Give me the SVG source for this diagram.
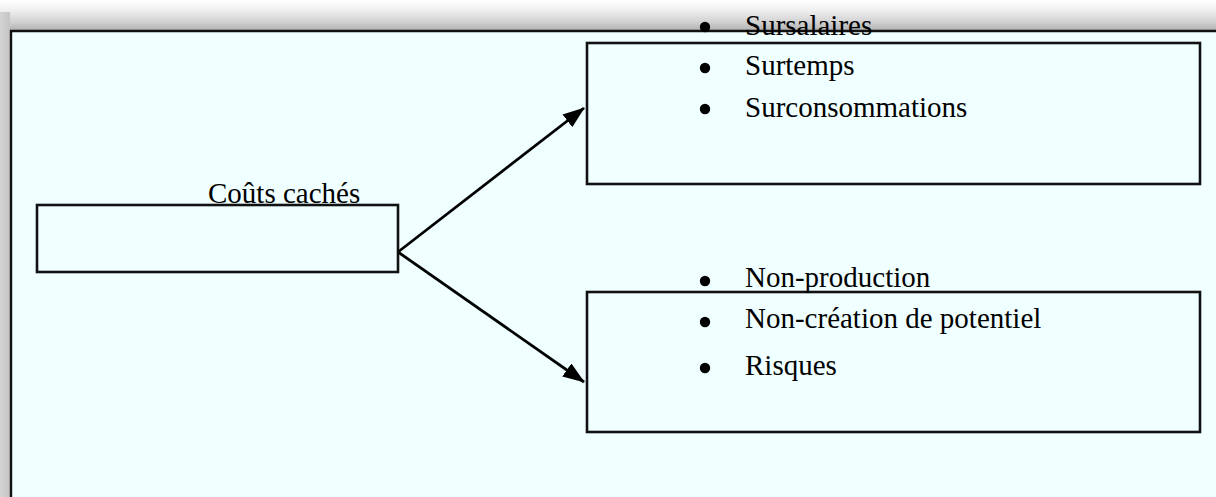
<svg xmlns="http://www.w3.org/2000/svg" width="1216" height="497" viewBox="0 0 1216 497">
  <defs>
    <linearGradient id="topShadow" x1="0" y1="0" x2="0" y2="1">
      <stop offset="0" stop-color="#ffffff"/>
      <stop offset="0.35" stop-color="#eeeeee"/>
      <stop offset="0.7" stop-color="#d2d2d2"/>
      <stop offset="1" stop-color="#b0b0b0"/>
    </linearGradient>
    <linearGradient id="leftShadow" x1="0" y1="0" x2="1" y2="0">
      <stop offset="0" stop-color="#d4d4d4"/>
      <stop offset="1" stop-color="#c4c4c4"/>
    </linearGradient>
    <marker id="arrow" markerWidth="22" markerHeight="16" refX="21" refY="8" orient="auto" markerUnits="userSpaceOnUse">
      <path d="M0,0 L22,8 L0,16 Z" fill="#000"/>
    </marker>
    <style>
      .box { fill: none; stroke: #111; stroke-width: 2.6; }
      .txt { font-family: "Liberation Serif", "Times New Roman", serif; font-size: 29px; fill: #000; }
      .bullet { fill: #000; }
      .conn { stroke: #000; stroke-width: 2.8; fill: none; }
    </style>
  </defs>

  <!-- background and shadow -->
  <rect x="0" y="0" width="1216" height="497" fill="#ffffff"/>
  <rect x="0" y="0" width="1216" height="31" fill="url(#topShadow)"/>
  <rect x="0" y="12" width="10" height="485" fill="url(#leftShadow)"/>
  <rect x="11" y="31" width="1205" height="466" fill="#f0ffff"/>
  <path d="M11,497 L11,31 L1216,31" fill="none" stroke="#111" stroke-width="2.4"/>

  <g id="connectors">
    <line class="conn" x1="398" y1="252" x2="584" y2="108" marker-end="url(#arrow)"/>
    <line class="conn" x1="398" y1="252" x2="584" y2="382" marker-end="url(#arrow)"/>
  </g>

  <g id="node-couts">
    <rect class="box" x="37" y="205" width="361" height="67"/>
    <text class="txt" x="208" y="203">Coûts cachés</text>
  </g>

  <g id="node-top">
    <rect class="box" x="587" y="43" width="613" height="141"/>
    <circle class="bullet" cx="705" cy="27" r="5.2"/>
    <text class="txt" x="745" y="35">Sursalaires</text>
    <circle class="bullet" cx="705" cy="68" r="5.2"/>
    <text class="txt" x="745" y="75">Surtemps</text>
    <circle class="bullet" cx="705" cy="109" r="5.2"/>
    <text class="txt" x="745" y="117">Surconsommations</text>
  </g>

  <g id="node-bottom">
    <rect class="box" x="587" y="292" width="613" height="140"/>
    <circle class="bullet" cx="705" cy="281" r="5.2"/>
    <text class="txt" x="745" y="287">Non-production</text>
    <circle class="bullet" cx="705" cy="322" r="5.2"/>
    <text class="txt" x="745" y="328">Non-création de potentiel</text>
    <circle class="bullet" cx="705" cy="368" r="5.2"/>
    <text class="txt" x="745" y="375">Risques</text>
  </g>
</svg>
